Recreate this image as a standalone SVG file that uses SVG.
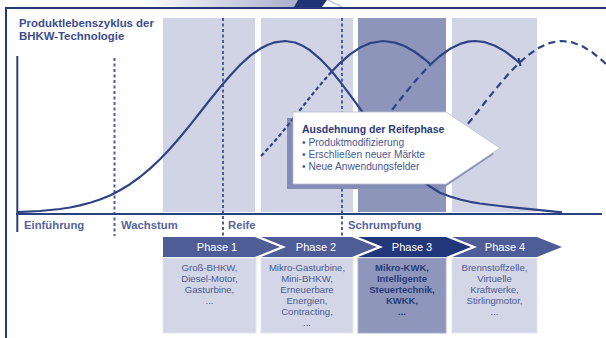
<svg xmlns="http://www.w3.org/2000/svg" width="606" height="338" viewBox="0 0 606 338">
  <style>
    .col-light { fill: #d1d4e5; }
    .col-dark { fill: #8d95ba; }
    .box-light { fill: #d3d6e6; stroke: #e4e6ef; stroke-width: 1; }
    .box-dark { fill: #8e96bb; stroke: #a9b0cc; stroke-width: 1; }
    .curve { fill: none; stroke: #2f4385; stroke-width: 2.2; stroke-linejoin: round; }
    .dot { stroke-dasharray: 4 2.6; }
    .dash { stroke-dasharray: 7 4.5; }
    .guide { stroke: #4d5d98; stroke-width: 2; stroke-dasharray: 3 2.5; fill: none; }
    .axis { stroke: #2c3f80; stroke-width: 2; fill: none; }
    .chev { fill: #4f5d97; }
    .chev-dark { fill: #22377a; }
    .title { font-family: "Liberation Sans", Arial, sans-serif; font-weight: bold; font-size: 11.4px; fill: #3d4c8c; }
    .stage { font-family: "Liberation Sans", Arial, sans-serif; font-weight: bold; font-size: 11.3px; fill: #56659c; }
    .phase { font-family: "Liberation Sans", Arial, sans-serif; font-size: 11px; fill: #ffffff; text-anchor: middle; }
    .item { font-family: "Liberation Sans", Arial, sans-serif; font-size: 9.6px; fill: #4b5a94; text-anchor: middle; }
    .item-bold { font-family: "Liberation Sans", Arial, sans-serif; font-size: 9.5px; font-weight: bold; fill: #283b78; text-anchor: middle; }
    .note-head { font-family: "Liberation Sans", Arial, sans-serif; font-weight: bold; font-size: 10.5px; fill: #2a3a7a; }
    .note { font-family: "Liberation Sans", Arial, sans-serif; font-size: 10.2px; fill: #4a5890; }
  </style>
  <defs>
    <linearGradient id="swoosh" x1="0" y1="0" x2="1" y2="0">
      <stop offset="0" stop-color="#ffffff"/>
      <stop offset="1" stop-color="#a7aecb"/>
    </linearGradient>
  </defs>

  <rect x="0" y="0" width="606" height="338" fill="#ffffff"/>

  <!-- page header ornament and frame -->
  <g id="frame">
    <path d="M140,0 L300,0 L300,7 L180,7 Q158,6 140,0 Z" fill="url(#swoosh)"/>
    <path d="M298,0 L327,0 L322,7 L294,7 Z" fill="#1f3474"/>
    <path d="M328,0 Q336,4 342,7" fill="none" stroke="#c5c9dc" stroke-width="1.5"/>
    <line x1="5" y1="8" x2="606" y2="8" stroke="#253a78" stroke-width="2"/>
    <line x1="6" y1="8" x2="6" y2="338" stroke="#253a78" stroke-width="2"/>
  </g>

  <!-- phase columns behind the chart -->
  <g id="columns">
    <rect class="col-light" x="163" y="18" width="92" height="194"/>
    <rect class="col-light" x="261" y="18" width="92" height="194"/>
    <rect class="col-dark" x="358" y="18" width="88" height="194"/>
    <rect class="col-light" x="452" y="18" width="85" height="194"/>
  </g>

  <g id="title">
    <text class="title" x="19" y="27">Produktlebenszyklus der</text>
    <text class="title" x="19" y="40">BHKW-Technologie</text>
  </g>

  <!-- stage boundaries -->
  <g id="guides">
    <line class="guide" x1="114.5" y1="58" x2="114.5" y2="236"/>
    <line class="guide" x1="223" y1="18" x2="223" y2="236"/>
    <line class="guide" x1="342" y1="18" x2="342" y2="236"/>
  </g>

  <!-- callout shadow -->
  <path id="callout-shadow" d="M287,118 L440,118 L494,154 L442,189 L287,189 Z" fill="#848db6"/>

  <!-- life cycle curves -->
  <g id="connectors">
    <polyline class="curve" points="17,212.2 40,211 60,209 70,207.5 80,205.4 90,202.8 100,199.5 110,195.4 120,190.3 130,184.2 140,177 150,168.6 160,159.2 170,148.7 180,137.2 190,125.1 200,112.5 210,99.8 220,87.4 230,75.7 240,65 250,55.9 260,48.8 268,44.7 275,42.3 285,41 295,42.5 302,45.4 310,50.3 320,58.8 330,69.3 340,81.6 350,94.8 360,108.7 370,122.5 380,135.9 390,148.5 400,159.9 410,170.1 420,179 430,186.5 440,192.7 450,196.5 460,199.5 470,201.8 480,203.5 500,206 520,208.2 540,210.2 562,212.3"/>
    <polyline class="curve dot" points="261,156.1 270,146.4 280,134.9 290,122.6 300,110 310,97.3 320,85 332,71.3"/>
    <polyline class="curve" points="332,71.3 340,63.1 350,54.4 360,47.6 370,43.2 383,41 395,42.6 405,46.3 415,52 425,59.5 431,64.6"/>
    <polyline class="curve dash" points="385,118.8 395,106.1 405,93.5 415,81.4 425,70.2 431,64"/>
    <polyline class="curve" points="431,64 440,56 450,48.8 460,43.9 468,41.6 475,41 485,42.2 495,45.7 505,51.4 515,59 519.5,63"/>
    <line class="curve" x1="518.5" y1="58" x2="520.5" y2="66"/>
    <polyline class="curve dash" points="468,123.8 478,111.2 488,98.5 498,86.2 508,74.5 518,64 528,55.2 538,48.2 548,43.5 556,41.5 562,41 572,42.3 582,46 592,52.2 602,60.3 606,64"/>
  </g>

  <!-- time axis -->
  <g id="axis">
    <line class="axis" x1="17.3" y1="56" x2="17.3" y2="232"/>
    <line class="axis" x1="16" y1="214" x2="602" y2="214"/>
    <text class="stage" x="24" y="229">Einführung</text>
    <text class="stage" x="121" y="229">Wachstum</text>
    <text class="stage" x="228" y="229">Reife</text>
    <text class="stage" x="348" y="229">Schrumpfung</text>
  </g>

  <!-- callout: extension of the maturity phase -->
  <g id="callout">
    <path d="M293,112 L446,112 L500,148 L446,184 L293,184 Z" fill="#ffffff" stroke="#b9bed6" stroke-width="0.8"/>
    <text class="note-head" x="302" y="133">Ausdehnung der Reifephase</text>
    <text class="note" x="302" y="145.5">• Produktmodifizierung</text>
    <text class="note" x="302" y="157.5">• Erschließen neuer Märkte</text>
    <text class="note" x="302" y="169.5">• Neue Anwendungsfelder</text>
  </g>

  <!-- phase 1 -->
  <g id="phase-1">
    <path class="chev" d="M163,237 L255,237 L280,247 L255,257 L163,257 Z"/>
    <text class="phase" x="217" y="251">Phase 1</text>
    <rect class="box-light" x="163" y="258" width="93" height="75"/>
    <text class="item" x="209.5" y="271">Groß-BHKW,</text>
    <text class="item" x="209.5" y="282">Diesel-Motor,</text>
    <text class="item" x="209.5" y="293">Gasturbine,</text>
    <text class="item" x="209.5" y="304">...</text>
  </g>

  <!-- phase 2 -->
  <g id="phase-2">
    <path class="chev" d="M261,237 L352,237 L377,247 L352,257 L261,257 L286,247 Z"/>
    <text class="phase" x="316" y="251">Phase 2</text>
    <rect class="box-light" x="261" y="258" width="92" height="75"/>
    <text class="item" x="307" y="271">Mikro-Gasturbine,</text>
    <text class="item" x="307" y="282">Mini-BHKW,</text>
    <text class="item" x="307" y="293">Erneuerbare</text>
    <text class="item" x="307" y="304">Energien,</text>
    <text class="item" x="307" y="315">Contracting,</text>
    <text class="item" x="307" y="326">...</text>
  </g>

  <!-- phase 3 -->
  <g id="phase-3">
    <path class="chev-dark" d="M358,237 L446,237 L471,247 L446,257 L358,257 L383,247 Z"/>
    <text class="phase" x="412" y="251">Phase 3</text>
    <rect class="box-dark" x="358" y="258" width="88" height="75"/>
    <text class="item-bold" x="402" y="271">Mikro-KWK,</text>
    <text class="item-bold" x="402" y="282">Intelligente</text>
    <text class="item-bold" x="402" y="293">Steuertechnik,</text>
    <text class="item-bold" x="402" y="304">KWKK,</text>
    <text class="item-bold" x="402" y="315">...</text>
  </g>

  <!-- phase 4 -->
  <g id="phase-4">
    <path class="chev" d="M452,237 L537,237 L562,247 L537,257 L452,257 L477,247 Z"/>
    <text class="phase" x="505" y="251">Phase 4</text>
    <rect class="box-light" x="452" y="258" width="85" height="75"/>
    <text class="item" x="494.5" y="271">Brennstoffzelle,</text>
    <text class="item" x="494.5" y="282">Virtuelle</text>
    <text class="item" x="494.5" y="293">Kraftwerke,</text>
    <text class="item" x="494.5" y="304">Stirlingmotor,</text>
    <text class="item" x="494.5" y="315">...</text>
  </g>
</svg>
